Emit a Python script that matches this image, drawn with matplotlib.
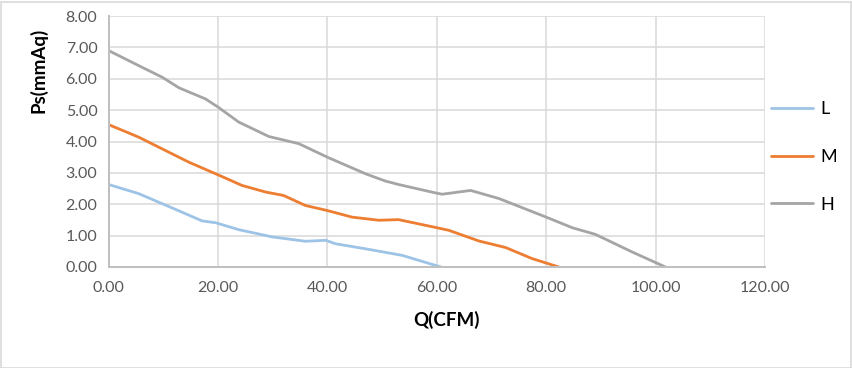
import matplotlib.pyplot as plt
from matplotlib.patches import Rectangle

# readings
q_low = [0, 5.5, 12.2, 17.1, 19.6, 23.8, 29.9, 36.0, 39.7, 41.5, 47.0, 53.7, 59.8, 60.8]
ps_low = [2.63, 2.34, 1.84, 1.47, 1.41, 1.19, 0.96, 0.82, 0.85, 0.74, 0.58, 0.37, 0.05, 0.0]

q_mid = [0, 5.5, 14.7, 20.0, 24.4, 28.7, 32.0, 36.0, 40.0, 44.5, 49.4, 53.0, 59.8, 62.2,
         67.7, 72.6, 77.4, 82.3]
ps_mid = [4.54, 4.14, 3.34, 2.94, 2.60, 2.39, 2.28, 1.96, 1.80, 1.59, 1.49, 1.51, 1.26, 1.17,
          0.83, 0.62, 0.27, 0.0]

q_high = [0, 5.5, 9.8, 12.9, 17.7, 20.0, 23.8, 29.3, 34.8, 40.0, 47.0, 50.6, 53.0, 59.8,
          61.0, 66.2, 71.4, 80.0, 84.8, 89.0, 95.7, 101.8]
ps_high = [6.90, 6.42, 6.05, 5.71, 5.36, 5.10, 4.62, 4.16, 3.93, 3.50, 2.97, 2.74, 2.63, 2.36,
           2.32, 2.44, 2.18, 1.59, 1.25, 1.04, 0.48, 0.0]

series_names = ["L", "M", "H"]
colors = ["#9DC3E6", "#ED7D31", "#A5A5A5"]

x_ticks = [0, 20, 40, 60, 80, 100, 120]
y_ticks = [0, 1, 2, 3, 4, 5, 6, 7, 8]

plt.rcParams["font.family"] = ["Lato", "DejaVu Sans"]

W, H = 852, 368
fig = plt.figure(figsize=(W / 100, H / 100), dpi=100)
ax = fig.add_axes([108.5 / W, 1 - 267 / H, (765 - 108.5) / W, (267 - 16) / H])

data = [(q_low, ps_low), (q_mid, ps_mid), (q_high, ps_high)]
for (q, ps), name, c in zip(data, series_names, colors):
    ax.plot(q, ps, color=c, linewidth=2.0, label=name, solid_capstyle="round")

ax.set_xlim(0, 120)
ax.set_ylim(0, 8)
ax.set_xticks(x_ticks)
ax.set_yticks(y_ticks)
ax.set_xticklabels([f"{v:.2f}" for v in x_ticks])
ax.set_yticklabels([f"{v:.2f}" for v in y_ticks])
ax.tick_params(axis="both", length=0, labelsize=11.5, colors="#595959")
ax.tick_params(axis="x", pad=10)
ax.tick_params(axis="y", pad=8)
ax.grid(True, color="#D9D9D9", linewidth=1.1)
ax.set_axisbelow(True)
for side in ["top", "right"]:
    ax.spines[side].set_visible(False)
for side in ["left", "bottom"]:
    ax.spines[side].set_color("#BFBFBF")
    ax.spines[side].set_linewidth(1.4)

# axis titles sit where the reference puts them (y title is not centred)
fig.text(446 / W, 1 - 320 / H, "Q(CFM)", fontsize=13.5, fontweight="bold",
         ha="center", va="center")
fig.text(38 / W, 1 - 70 / H, "Ps(mmAq)", fontsize=13.5, fontweight="bold",
         ha="center", va="center", rotation=90)

ax.legend(loc="center left", bbox_to_anchor=(771 / W, 1 - 157 / H),
          bbox_transform=fig.transFigure, frameon=False, borderpad=0,
          borderaxespad=0, fontsize=13, handlelength=2.33, labelspacing=1.75,
          handletextpad=0.4)

fig.patches.append(Rectangle((0.5 / W, 0.5 / H), (W - 2) / W, (H - 2) / H,
                             transform=fig.transFigure, fill=False,
                             edgecolor="#D9D9D9", linewidth=1.2))

fig.savefig("out.png", dpi=100, facecolor="white")
